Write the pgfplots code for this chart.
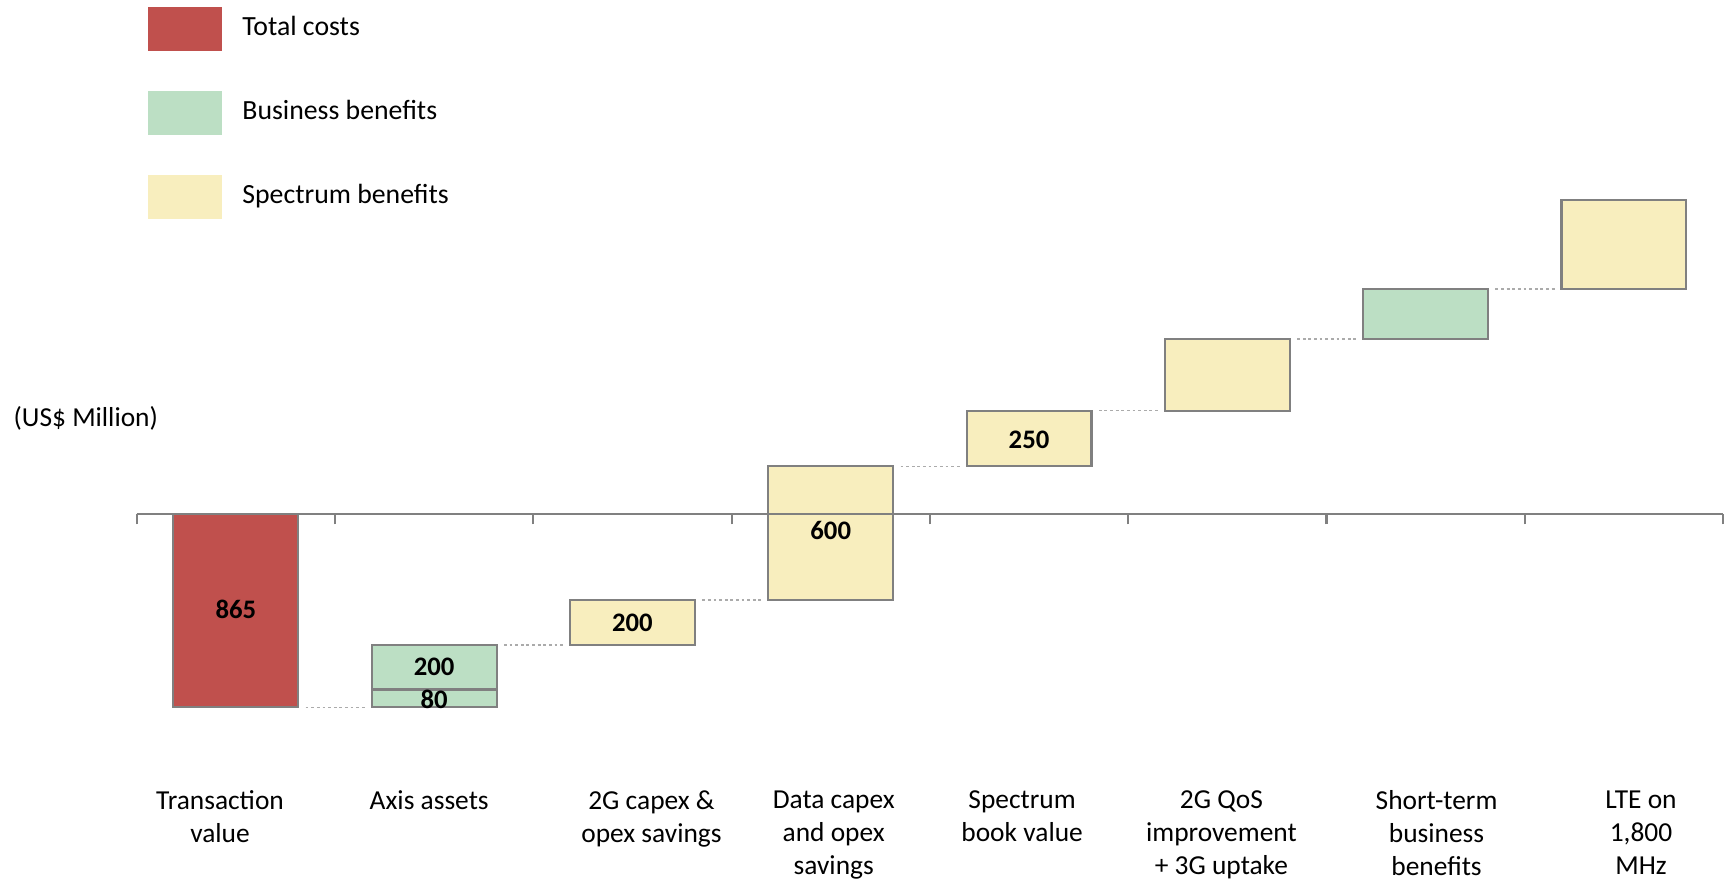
\documentclass[border=0pt]{standalone}
\usepackage{pgfplots}
\pgfplotsset{compat=1.18}
\usepackage{fontspec}
\setmainfont{Carlito}
\definecolor{tcred}{HTML}{C0504D}
\definecolor{bbgreen}{HTML}{BCDFC4}
\definecolor{spyellow}{HTML}{F8EEBE}
\definecolor{edge}{HTML}{808080}
\definecolor{conn}{HTML}{ABABAB}
\begin{document}
\begin{tikzpicture}
\useasboundingbox (0,0) rectangle (17.33,8.82);
\begin{axis}[
  at={(1.367cm,0cm)}, anchor=south west,
  scale only axis, width=15.864cm, height=8.82cm,
  xmin=0, xmax=8, ymin=-1648, ymax=2305,
  axis x line=middle, axis y line=none,
  axis line style={edge, line width=0.6pt, -},
  xtick={0,1,2,3,4,5,6,7,8}, xticklabels={}, ytick=\empty,
  major tick length=0.1cm, tick align=outside,
  x tick style={edge, line width=0.6pt},
  clip=false, axis on top,
  font=\fontsize{7.8}{9.4}\selectfont,
  legend image code/.code={\fill[#1, draw=none] (0cm,-0.22cm) rectangle (0.733cm,0.22cm);},
  legend style={draw=none, fill=none, at={(axis cs:0.0555,2278)}, anchor=north west,
    inner sep=0pt, row sep=0.40cm, font=\fontsize{7.9}{9.5}\selectfont,
    nodes={inner sep=0pt}},
  legend cell align=left,
  /tikz/every odd column/.append style={column sep=0.207cm},
  bar/.style={draw=edge, line width=0.6pt, line join=miter, forget plot},
  connector/.style={conn, dash pattern=on 0.8pt off 0.8pt, line width=0.45pt, forget plot},
]
\addlegendimage{fill=tcred}
\addlegendentry{Total costs}
\addlegendimage{fill=bbgreen}
\addlegendentry{Business benefits}
\addlegendimage{fill=spyellow}
\addlegendentry{Spectrum benefits}

% bars
\addplot[bar, fill=tcred] coordinates {(0.185,0) (0.815,0) (0.815,-865) (0.185,-865)} -- cycle;
\addplot[bar, fill=bbgreen] coordinates {(1.185,-865) (1.815,-865) (1.815,-785) (1.185,-785)} -- cycle;
\addplot[bar, fill=bbgreen] coordinates {(1.185,-785) (1.815,-785) (1.815,-585) (1.185,-585)} -- cycle;
\addplot[bar, fill=spyellow] coordinates {(2.185,-585) (2.815,-585) (2.815,-385) (2.185,-385)} -- cycle;
\addplot[bar, fill=spyellow] coordinates {(3.185,-385) (3.815,-385) (3.815,215) (3.185,215)} -- cycle;
\addplot[bar, fill=spyellow] coordinates {(4.185,215) (4.815,215) (4.815,465) (4.185,465)} -- cycle;
\addplot[bar, fill=spyellow] coordinates {(5.185,465) (5.815,465) (5.815,785) (5.185,785)} -- cycle;
\addplot[bar, fill=bbgreen] coordinates {(6.185,785) (6.815,785) (6.815,1010) (6.185,1010)} -- cycle;
\addplot[bar, fill=spyellow] coordinates {(7.185,1010) (7.815,1010) (7.815,1410) (7.185,1410)} -- cycle;

% connectors
\addplot[connector] coordinates {(0.852,-865) (1.150,-865)};
\addplot[connector] coordinates {(1.852,-585) (2.150,-585)};
\addplot[connector] coordinates {(2.852,-385) (3.150,-385)};
\addplot[connector] coordinates {(3.852,215) (4.150,215)};
\addplot[connector] coordinates {(4.852,465) (5.150,465)};
\addplot[connector] coordinates {(5.852,785) (6.150,785)};
\addplot[connector] coordinates {(6.852,1010) (7.150,1010)};

% value labels
\node[font=\fontsize{7.6}{9.3}\selectfont\bfseries] at (axis cs:0.5,-425) {865};
\node[font=\fontsize{7.6}{9.3}\selectfont\bfseries] at (axis cs:1.5,-682) {200};
\node[font=\fontsize{7.6}{9.3}\selectfont\bfseries] at (axis cs:1.5,-828) {80};
\node[font=\fontsize{7.6}{9.3}\selectfont\bfseries] at (axis cs:2.5,-488) {200};
\node[font=\fontsize{7.6}{9.3}\selectfont\bfseries] at (axis cs:3.5,-72) {600};
\node[font=\fontsize{7.6}{9.3}\selectfont\bfseries] at (axis cs:4.5,336) {250};

% unit label
\node[anchor=west, inner sep=0pt] at (axis cs:-0.624,432) {(US\$ Million)};

% category labels
\begin{scope}[every node/.style={anchor=north, align=center, inner sep=0pt}]
\node at (axis cs:0.420,-1236) {Transaction\\value};
\node at (axis cs:1.475,-1236) {Axis assets};
\node at (axis cs:2.596,-1236) {2G capex \&\\opex savings};
\node at (axis cs:3.515,-1236) {Data capex\\and opex\\savings};
\node at (axis cs:4.465,-1236) {Spectrum\\book value};
\node at (axis cs:5.470,-1236) {2G QoS\\improvement\\+ 3G uptake};
\node at (axis cs:6.555,-1236) {Short-term\\business\\benefits};
\node at (axis cs:7.586,-1236) {LTE on\\1,800\\MHz};
\end{scope}
\end{axis}
\end{tikzpicture}
\end{document}
